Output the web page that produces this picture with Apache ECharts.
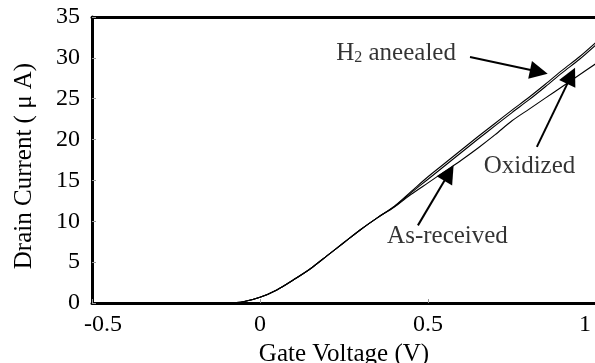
<!DOCTYPE html>
<html>
<head>
<meta charset="utf-8">
<script src="https://cdn.jsdelivr.net/npm/echarts@6/dist/echarts.min.js"></script>
<style>html,body{margin:0;padding:0;background:#fff}#c{width:595px;height:363px}</style>
</head>
<body>
<div id="c"></div>
<script>
// ---- data ----
var xValues = [-0.1, -0.05, 0, 0.05, 0.1, 0.15, 0.2, 0.25, 0.3, 0.35, 0.4, 0.45, 0.5, 0.55, 0.6, 0.65, 0.7, 0.75, 0.8, 0.85, 0.9, 0.95, 1.0];
var h2Values = [0, 0.15, 0.7, 1.6, 2.85, 4.2, 5.8, 7.4, 9.0, 10.45, 11.85, 13.65, 15.45, 17.1, 18.75, 20.4, 22.0, 23.6, 25.15, 26.8, 28.5, 30.1, 31.9];
var oxidizedValues = [0, 0.15, 0.7, 1.6, 2.85, 4.2, 5.8, 7.4, 9.0, 10.45, 11.8, 13.5, 15.15, 16.8, 18.45, 20.1, 21.7, 23.3, 24.85, 26.5, 28.2, 29.8, 31.6];
var asReceivedValues = [0, 0.15, 0.7, 1.6, 2.85, 4.2, 5.8, 7.4, 9.0, 10.45, 11.75, 13.3, 14.7, 16.1, 17.5, 19.0, 20.6, 22.3, 23.7, 25.1, 26.5, 27.9, 29.3];
var xTicks = [-0.5, 0, 0.5, 1];
var yTicks = [0, 5, 10, 15, 20, 25, 30, 35];
var labelTexts = ['H2 aneealed', 'Oxidized', 'As-received'];
var labelAnchors = [[0.405, 30.6], [0.802, 16.7], [0.558, 8.2]];
var arrowStarts = [[0.625, 30.1], [0.824, 19.1], [0.470, 9.5]];
var arrowEnds = [[0.83, 28.3], [0.926, 27.8], [0.5625, 15.9]];

// ---- build ----
var FONT = "'Liberation Serif','Times New Roman',serif";
function pairs(xs, ys) { return xs.map(function (x, i) { return [x, ys[i]]; }); }

var chart = echarts.init(document.getElementById('c'), null, { renderer: 'canvas' });

var lineBase = {
  type: 'line', showSymbol: false, symbol: 'none', smooth: 0.3,
  lineStyle: { color: '#000', width: 1.1 }, z: 3
};

var arrowData = arrowStarts.map(function (s, i) {
  return [{ coord: s }, { coord: arrowEnds[i] }];
});

var option = {
  animation: false,
  backgroundColor: '#fff',
  grid: { left: 92, right: -1, top: 17, bottom: 60, show: false, containLabel: false, outerBoundsMode: 'none' },
  xAxis: [{
    type: 'value', min: -0.5, max: 1, interval: 0.5,
    name: 'Gate Voltage (V)', nameLocation: 'middle', nameGap: 33,
    nameTextStyle: { fontFamily: FONT, fontSize: 25, color: '#000' },
    axisLine: { show: true, onZero: false, lineStyle: { color: '#000', width: 3 } },
    axisTick: { show: true, inside: true, length: 4, lineStyle: { color: '#999', width: 1 } },
    axisLabel: {
      fontFamily: FONT, fontSize: 24, color: '#000', margin: 10, showMinLabel: true, showMaxLabel: true,
      formatter: function (v) {
        if (v === xTicks[0]) return '{l|' + v + '}';
        if (v === xTicks[xTicks.length - 1]) return '{r|' + v + '}';
        return String(v);
      },
      rich: {
        l: { fontFamily: FONT, fontSize: 24, color: '#000', padding: [0, 0, 0, 22] },
        r: { fontFamily: FONT, fontSize: 24, color: '#000', padding: [0, 22, 0, 0] }
      }
    },
    splitLine: { show: false }
  }, {
    type: 'value', min: -0.5, max: 1, position: 'top',
    axisLine: { show: true, onZero: false, lineStyle: { color: '#000', width: 3 } },
    axisTick: { show: false }, axisLabel: { show: false }, splitLine: { show: false }
  }],
  yAxis: {
    type: 'value', min: 0, max: 35, interval: 5,
    name: 'Drain Current ( μ A)', nameLocation: 'middle', nameGap: 55,
    nameTextStyle: { fontFamily: FONT, fontSize: 25, color: '#000', padding: [0, 12, 0, 0] },
    axisLine: { show: true, onZero: false, lineStyle: { color: '#000', width: 3 } },
    axisTick: { show: true, inside: true, length: 4, lineStyle: { color: '#999', width: 1 } },
    axisLabel: { fontFamily: FONT, fontSize: 24, color: '#000', margin: 12 },
    splitLine: { show: false }
  },
  series: [
    Object.assign({}, lineBase, { name: 'H2 aneealed', data: pairs(xValues, h2Values) }),
    Object.assign({}, lineBase, { name: 'Oxidized', data: pairs(xValues, oxidizedValues) }),
    Object.assign({}, lineBase, {
      name: 'As-received', data: pairs(xValues, asReceivedValues),
      markLine: {
        silent: true, animation: false,
        symbol: ['none', 'triangle'], symbolSize: 18,
        lineStyle: { color: '#000', width: 2, type: 'solid' },
        itemStyle: { color: '#000' },
        label: { show: false },
        data: arrowData
      }
    }),
    {
      type: 'scatter', symbolSize: 0, z: 5,
      data: labelAnchors.map(function (a, i) { return [a[0], a[1], labelTexts[i]]; }),
      label: {
        show: true, position: 'inside', align: 'center', verticalAlign: 'middle',
        fontFamily: FONT, fontSize: 25, color: '#000',
        formatter: function (p) {
          var t = p.data[2];
          if (t.indexOf('H2') === 0) return '{b|H}{s|2}{b|' + t.slice(2) + '}';
          return '{b|' + t + '}';
        },
        rich: {
          b: { fontFamily: FONT, fontSize: 25, color: '#000' },
          s: { fontFamily: FONT, fontSize: 16, color: '#000', padding: [10, 0, 0, 0] }
        }
      }
    }
  ]
};
chart.setOption(option);
</script>
</body>
</html>
